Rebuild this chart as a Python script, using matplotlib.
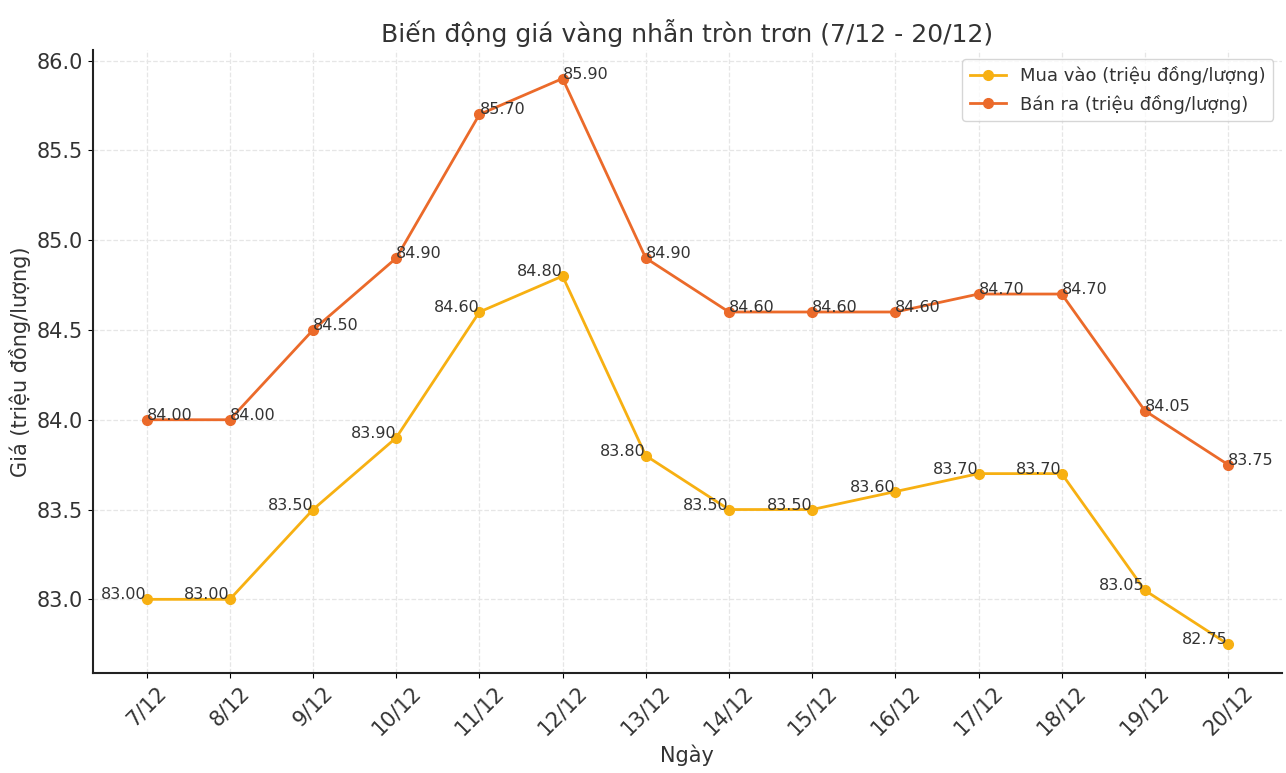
import matplotlib
matplotlib.use("Agg")
import matplotlib.pyplot as plt

# ── Data ───────────────────────────────────────────────────────────────────────
dates = ["7/12", "8/12", "9/12", "10/12", "11/12", "12/12", "13/12",
         "14/12", "15/12", "16/12", "17/12", "18/12", "19/12", "20/12"]
buy_prices = [83.00, 83.00, 83.50, 83.90, 84.60, 84.80, 83.80,
              83.50, 83.50, 83.60, 83.70, 83.70, 83.05, 82.75]
sell_prices = [84.00, 84.00, 84.50, 84.90, 85.70, 85.90, 84.90,
               84.60, 84.60, 84.60, 84.70, 84.70, 84.05, 83.75]

BUY_COLOR = "#F7B012"
SELL_COLOR = "#EB6A2A"
TEXT_COLOR = "#333333"

plt.rcParams["font.family"] = ["DejaVu Sans"]

fig, ax = plt.subplots(figsize=(12.86, 7.73), dpi=100)

x = range(len(dates))
ax.plot(x, buy_prices, marker="o", color=BUY_COLOR, linewidth=2, markersize=7,
        label="Mua vào (triệu đồng/lượng)")
ax.plot(x, sell_prices, marker="o", color=SELL_COLOR, linewidth=2, markersize=7,
        label="Bán ra (triệu đồng/lượng)")

# value labels
for i, v in enumerate(buy_prices):
    ax.text(i, v, f"{v:.2f}", ha="right", va="baseline", fontsize=11.5, color=TEXT_COLOR)
for i, v in enumerate(sell_prices):
    ax.text(i, v, f"{v:.2f}", ha="left", va="baseline", fontsize=11.5, color=TEXT_COLOR)

ax.set_xticks(list(x))
ax.set_xticklabels(dates, rotation=45, fontsize=15, color=TEXT_COLOR)
ax.tick_params(axis="y", labelsize=15, labelcolor=TEXT_COLOR)
ax.set_title("Biến động giá vàng nhẫn tròn trơn (7/12 - 20/12)", fontsize=18,
             color=TEXT_COLOR)
ax.set_xlabel("Ngày", fontsize=15, color=TEXT_COLOR)
ax.set_ylabel("Giá (triệu đồng/lượng)", fontsize=15, color=TEXT_COLOR)

ax.grid(True, linestyle="--", color="#e6e6e6", linewidth=0.9)
ax.spines["top"].set_visible(False)
ax.spines["right"].set_visible(False)
for s in ("left", "bottom"):
    ax.spines[s].set_linewidth(1.5)
    ax.spines[s].set_color("#222222")

ax.legend(loc="upper right", fontsize=13, labelcolor=TEXT_COLOR)

plt.subplots_adjust(left=0.072, right=0.997, top=0.935, bottom=0.13)
plt.savefig("out.png", dpi=100)
